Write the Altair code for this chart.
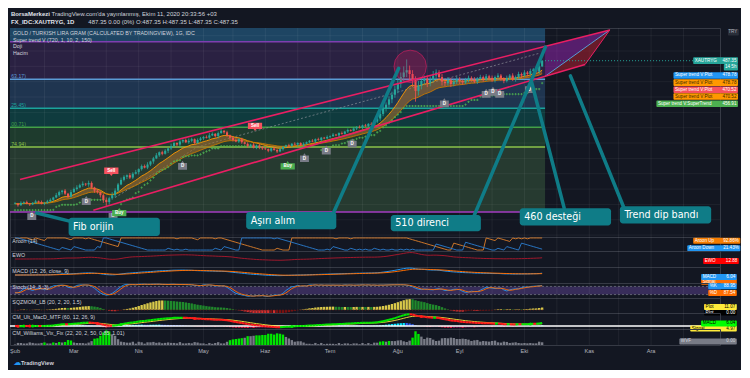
import altair as alt
import numpy as np
import pandas as pd

BG = "#131722"
W = 710
XDOM = [-1.7, 239.4]
SF = "Liberation Sans"
AF = "DejaVu Sans"
TXT = "#d1d4dc"
AXC = "#b2b5be"
BORDER = "#363a45"
TEAL_BOX = "#0f7c87"

H_HEAD, H_MAIN, H_AR, H_EWO, H_MACD, H_ST, H_SQZ, H_CM, H_VIX, H_AX, H_LOGO = 19, 209, 14, 16, 16, 15, 15, 16, 16, 11, 13

# ---------------- data ----------------
MONTHS = ["Şub", "Mar", "Nis", "May", "Haz", "Tem", "Ağu", "Eyl", "Eki", "Kas", "Ara"]
MONTH_START = [0, 20, 42, 64, 85, 107, 130, 151, 173, 195, 216]
GRID_X = [0, 10, 20, 31, 42, 53, 64, 74, 85, 96, 107, 118, 130, 140, 151, 162, 173, 184, 195, 205, 216, 227]
PRICE_TICKS = [260, 280, 300, 320, 340, 360, 380, 400, 420, 440, 460, 480, 500, 520]

FIRST_OPEN = 301.0
CLOSE = [
    301, 299, 302, 303, 301, 300, 302, 304, 303, 301,
    302, 304, 306, 309, 312, 316, 318, 314, 310, 316,
    320, 322, 325, 327, 326, 328, 322, 318, 316, 312,
    306, 303, 308, 312, 318, 326, 332, 336, 338, 335,
    340, 342,
    346, 350, 348, 352, 356, 360, 364, 368, 366, 370,
    373, 376, 380, 378, 382, 384, 381, 383, 385, 380,
    384, 386,
    388, 387, 390, 392, 389, 393, 396, 394, 390, 387,
    384, 382, 385, 381, 379, 376, 378, 374, 377, 375,
    373,
    372, 370, 373, 371, 369, 372, 375, 377, 376, 379,
    378, 380, 377, 379, 381, 383, 382, 385, 384, 387,
    386, 388,
    389, 391, 390, 393, 392, 395, 397, 396, 399, 401,
    400, 403, 402, 405, 404, 408, 412, 418, 425, 430,
    437, 443, 450,
    458, 466, 472, 475, 470, 463, 448, 455, 461, 464,
    458, 462, 468, 472, 466, 460, 458, 462, 457, 460,
    463,
    461, 459, 462, 465, 463, 460, 464, 466, 463, 467,
    465, 462, 466, 468, 464, 461, 465, 468, 463, 466,
    470, 468,
    472, 470, 474, 476, 473, 480, 487.35,
]
WICK_UP = [
    2, 1, 2, 1, 2, 1, 1, 2, 1, 2, 1, 2, 2, 1, 3, 2, 1, 2, 1, 3,
    2, 3, 2, 3, 1, 3, 2, 1, 2, 1, 2, 3, 2, 4, 3, 2, 3, 2, 1, 3,
    2, 3, 1, 2, 2, 3, 1, 2, 3, 1, 2, 2, 1, 3, 2, 1, 2, 1, 2, 3,
    2, 1, 2, 2, 1, 2, 3, 2, 1, 2, 3, 1, 2, 1, 2, 2, 1, 2, 1, 2,
    1, 2, 1, 2, 1, 2, 1, 1, 2, 1, 2, 1, 1, 2, 1, 2, 1, 1, 2, 1,
    1, 2, 1, 2, 1, 1, 2, 1, 2, 1, 1, 2, 1, 2, 1, 2, 1, 2, 1, 2,
    1, 2, 2, 3, 3, 4, 3, 4, 4, 5, 5, 6, 8, 14, 6, 5, 4, 6, 5, 4,
    4, 5, 6, 4, 3, 4, 3, 4, 3, 3, 4, 3, 2, 3, 3, 2, 3, 2, 3, 2,
    3, 2, 3, 2, 3, 2, 2, 3, 2, 3, 2, 3, 2, 3, 2, 3, 2, 3, 2, 1,
]
WICK_DN = [
    1, 2, 1, 2, 1, 2, 1, 1, 2, 1, 2, 1, 1, 2, 1, 2, 3, 2, 2, 1,
    1, 2, 1, 2, 2, 3, 2, 3, 2, 3, 4, 5, 3, 2, 3, 2, 1, 2, 3, 2,
    2, 1, 3, 2, 1, 2, 2, 3, 1, 2, 2, 1, 3, 2, 1, 2, 3, 2, 1, 2,
    2, 2, 1, 2, 2, 1, 2, 1, 2, 3, 1, 2, 2, 3, 2, 1, 2, 2, 1, 2,
    2, 1, 2, 3, 2, 1, 2, 2, 1, 2, 1, 2, 1, 2, 1, 1, 2, 1, 2, 1,
    1, 1, 2, 1, 2, 1, 1, 2, 1, 1, 2, 1, 1, 2, 1, 1, 2, 1, 2, 1,
    2, 1, 2, 2, 3, 3, 4, 4, 5, 4, 5, 6, 5, 6, 8, 10, 14, 6, 5, 4,
    5, 4, 3, 5, 4, 5, 4, 3, 4, 3, 3, 4, 3, 2, 3, 3, 2, 3, 2, 3,
    2, 3, 2, 3, 2, 3, 3, 2, 3, 2, 3, 2, 3, 2, 3, 2, 3, 2, 3, 1,
]
assert len(CLOSE) == 180 and len(WICK_UP) == 180 and len(WICK_DN) == 180

# Fibonacci levels / bands
FIB_LEVEL = [512.0, 463.17, 425.45, 400.71, 374.94, 290.0]
FIB_LINE_COL = ["#7e3fb0", "#5b9bd5", "#1ba39c", "#43a047", "#8bc34a", "#a43cc0"]
FIB_LABEL = ["", "63.17)", "25.45)", "00.71)", "74.94)", ""]
BAND_LO = [512.0, 463.17, 425.45, 400.71, 374.94, 290.0]
BAND_HI = [530.0, 512.0, 463.17, 425.45, 400.71, 374.94]
BAND_COL = ["#1e4563", "#2a2142", "#1f3550", "#0f3b3e", "#1e3b2d", "#263a30"]
FIB_END = 180.0

# trend channel
CH_I0 = [1.7, 26.6]
CH_P0 = [332.5, 292.5]
CH_I1 = [202.0, 193.6]
CH_P1 = [527.5, 482.5]
DASH_I = [34, 62, 178]
DASH_P = [309, 375, 497]
PURPLE_I = [180.0, 202.0]
PURPLE_TOP = [506.1, 527.5]
PURPLE_BOT = [467.0, 527.5]
RED_I = [180.0, 193.6, 202.0]
RED_TOP = [467.0, 504.4, 527.5]
RED_BOT = [467.0, 482.5, 527.5]

# signal labels
D_I = [5.7, 24.2, 33.3, 56.9, 98.3, 105.7, 114.5, 145.8, 160.0, 162.3, 164.6, 174.7]
D_P = [285.6, 305.0, 286.0, 351.0, 361.0, 371.0, 380.0, 432.5, 445.0, 447.5, 445.0, 451.0]
SELL_I = [32.7, 81.5]
SELL_P = [342.5, 401.0]
BUY_I = [35.4, 92.6]
BUY_P = [290.0, 351.0]
CIRCLE_I = [134.2]
CIRCLE_P = [480.0]

# callouts
ANN_TEXT = ["Fib orijin", "Aşırı alım", "510 direnci", "460 desteği", "Trend dip bandı"]
ANN_I0 = [18.2, 78.5, 127.6, 171.4, 205.4]
ANN_I1 = [49.2, 109.1, 158.2, 202.4, 236.4]
ANN_P0 = [258.75, 267.5, 265.0, 272.5, 275.0]
ANN_P1 = [282.5, 290.0, 286.25, 295.0, 297.5]
PTR_I0 = [19.2, 108.1, 156.0, 186.5, 206.7]
PTR_P0 = [277.5, 288.75, 286.25, 295.0, 296.25]
PTR_I1 = [7.4, 130.3, 180.1, 175.4, 188.6]
PTR_P1 = [288.75, 477.5, 505.0, 460.0, 467.5]

LEGEND = ["GOLD / TURKISH LIRA GRAM (CALCULATED BY TRADINGVIEW), 1G, IDC",
          "Super trend V (720, 1, 10, 2, 150)", "Doji", "Hacim"]
LEGEND_P = [523.75, 515.0, 506.25, 497.5]

# ---------------- indicators derived from the candles ----------------
c = np.array(CLOSE, float)
o = np.concatenate([[FIRST_OPEN], c[:-1]])
hi_ = np.maximum(o, c) + np.array(WICK_UP, float)
lo_ = np.minimum(o, c) - np.array(WICK_DN, float)
n = len(c)
idx = np.arange(n)


def ema(x, p):
    out = np.zeros(len(x))
    a = 2.0 / (p + 1)
    out[0] = x[0]
    for k in range(1, len(x)):
        out[k] = a * x[k] + (1 - a) * out[k - 1]
    return out


def sma(x, p):
    return pd.Series(x).rolling(p, min_periods=1).mean().to_numpy()


def rmax(x, p):
    return pd.Series(x).rolling(p, min_periods=1).max().to_numpy()


def rmin(x, p):
    return pd.Series(x).rolling(p, min_periods=1).min().to_numpy()


ema_f = ema(c, 10)
ema_s = ema(c, 21)

prev_c = np.concatenate([[c[0]], c[:-1]])
tr = np.maximum(hi_ - lo_, np.maximum(np.abs(hi_ - prev_c), np.abs(lo_ - prev_c)))
atr = sma(tr, 10)
hl2 = (hi_ + lo_) / 2
ub = hl2 + 3 * atr
lb = hl2 - 3 * atr
fu = ub.copy()
fl = lb.copy()
trend = np.ones(n, int)
for k in range(1, n):
    fl[k] = lb[k] if (lb[k] > fl[k - 1] or c[k - 1] < fl[k - 1]) else fl[k - 1]
    fu[k] = ub[k] if (ub[k] < fu[k - 1] or c[k - 1] > fu[k - 1]) else fu[k - 1]
    t = trend[k - 1]
    if t == 1 and c[k] < fl[k - 1]:
        t = -1
    elif t == -1 and c[k] > fu[k - 1]:
        t = 1
    trend[k] = t

aup = np.zeros(n)
adn = np.zeros(n)
for k in range(n):
    s = max(0, k - 14)
    wh = hi_[s:k + 1]
    wl = lo_[s:k + 1]
    aup[k] = 100 * (14 - np.argmax(wh[::-1])) / 14
    adn[k] = 100 * (14 - np.argmin(wl[::-1])) / 14

ewo = sma(hl2, 5) - sma(hl2, 35)
macd = ema(c, 12) - ema(c, 26)
sig = ema(macd, 9)
ll14 = rmin(lo_, 14)
hh14 = rmax(hi_, 14)
raw = 100 * (c - ll14) / np.maximum(hh14 - ll14, 1e-6)
stk = sma(raw, 3)
std_ = sma(stk, 3)

src = c - ((rmax(hi_, 20) + rmin(lo_, 20)) / 2 + sma(c, 20)) / 2
sqz = np.zeros(n)
for k in range(n):
    s = max(0, k - 19)
    yy = src[s:k + 1]
    if len(yy) < 3:
        sqz[k] = yy[-1]
        continue
    xx = np.arange(len(yy))
    b, a0 = np.polyfit(xx, yy, 1)
    sqz[k] = a0 + b * (len(yy) - 1)

hc = rmax(c, 22)
wvf = (hc - lo_) / hc * 100
mid = sma(wvf, 20)
sdv = pd.Series(wvf).rolling(20, min_periods=2).std().fillna(0).to_numpy()
vgreen = ((wvf >= mid + 2 * sdv) | (wvf >= rmax(wvf, 50) * 0.85)) & (idx > 5)


# ---------------- helpers ----------------
def sx(field):
    return alt.X(f"{field}:Q", scale=alt.Scale(domain=XDOM, nice=False, zero=False), axis=None)


def sy(field, dom, axis=None):
    if axis is None:
        return alt.Y(f"{field}:Q", scale=alt.Scale(domain=dom, nice=False, zero=False), axis=None)
    return alt.Y(f"{field}:Q", scale=alt.Scale(domain=dom, nice=False, zero=False), axis=axis)


def vgrid(dom, op=0.06):
    df = pd.DataFrame({"gx": GRID_X, "y0": dom[0], "y1": dom[1]})
    return alt.Chart(df).mark_rule(color="#ffffff", opacity=op, strokeWidth=1).encode(
        x=sx("gx"), y=sy("y0", dom), y2="y1")


def plabel(text, dom):
    df = pd.DataFrame({"x": [-0.9], "y": [dom[1]], "t": [text]})
    return alt.Chart(df).mark_text(align="left", baseline="top", dy=1.5, font=SF, fontSize=5.3,
                                   color=TXT).encode(x=sx("x"), y=sy("y", dom), text="t:N")


def tag_layers(df, dom, fs=4.6):
    r = alt.Chart(df).mark_rect(cornerRadius=1).encode(
        x=sx("iL"), x2="iR", y=sy("y0", dom), y2="y1", color=alt.Color("fill:N", scale=None))
    t1 = alt.Chart(df).mark_text(align="left", baseline="middle", dx=1.5, font=SF, fontSize=fs).encode(
        x=sx("iL"), y=sy("yc", dom), text="label:N", color=alt.Color("tc:N", scale=None))
    t2 = alt.Chart(df).mark_text(align="right", baseline="middle", dx=-1.5, font=SF, fontSize=fs).encode(
        x=sx("iR"), y=sy("yc", dom), text="value:N", color=alt.Color("tc:N", scale=None))
    return [r, t1, t2]


def tags(rows, dom, H):
    span = dom[1] - dom[0]
    half = 3.0 / H * span
    df = pd.DataFrame(rows, columns=["label", "value", "iL", "iR", "frac", "fill", "tc"])
    df["yc"] = dom[1] - df["frac"] * span
    df["y0"] = df["yc"] - half
    df["y1"] = df["yc"] + half
    return tag_layers(df, dom)


NOSTROKE = alt.ViewBackground(stroke="transparent")

# ---------------- header ----------------
HD = [19, 0]
head_b = pd.DataFrame({"x": [-1.4, -1.4], "y": [4.5, 12.5], "t": ["BorsaMerkezi", "FX_IDC:XAUTRYG, 1D"]})
head_n = pd.DataFrame({"x": [12.4, 24.9], "y": [4.5, 12.5],
                       "t": ["TradingView.com'da yayınlanmış, Ekim 11, 2020 20:33:56 +03",
                             "487.35 0.00 (0%) O:487.35 H:487.35 L:487.35 C:487.35"]})
header = alt.layer(
    alt.Chart(head_b).mark_text(align="left", baseline="middle", font=SF, fontSize=6, fontWeight="bold",
                                color="#e0e3eb").encode(x=sx("x"), y=sy("y", HD), text="t:N"),
    alt.Chart(head_n).mark_text(align="left", baseline="middle", font=SF, fontSize=6,
                                color=TXT).encode(x=sx("x"), y=sy("y", HD), text="t:N"),
).properties(width=W, height=H_HEAD, view=NOSTROKE)

# ---------------- main price panel ----------------
MD = [257.5, 530.0]
bands = pd.DataFrame({"i0": XDOM[0], "i1": FIB_END, "lo": BAND_LO, "hi": BAND_HI, "col": BAND_COL})
fib = pd.DataFrame({"i0": XDOM[0], "i1": FIB_END, "p": FIB_LEVEL, "col": FIB_LINE_COL, "lab": FIB_LABEL,
                    "lx": -1.3})
hgrid = pd.DataFrame({"gp": PRICE_TICKS, "i0": XDOM[0], "i1": XDOM[1]})
candles = pd.DataFrame({"i": idx, "o": o, "c": c, "h": hi_, "l": lo_})
candles["bl"] = np.minimum(o, c)
candles["bh"] = np.maximum(np.maximum(o, c), candles["bl"] + 0.7)
candles["col"] = np.where(c >= o, "#26a69a", "#ef5350")
candles["b0"] = idx - 0.36
candles["b1"] = idx + 0.36
rib = pd.DataFrame({"i": idx, "f": ema_f, "s": ema_s})
st_df = pd.DataFrame({"i": idx[trend == 1], "st": fl[trend == 1]})
chan = pd.DataFrame({"i0": CH_I0, "p0": CH_P0, "i1": CH_I1, "p1": CH_P1})
dash = pd.DataFrame({"i": DASH_I, "p": DASH_P})
purple = pd.DataFrame({"i": PURPLE_I, "t": PURPLE_TOP, "b": PURPLE_BOT})
redar = pd.DataFrame({"i": RED_I, "t": RED_TOP, "b": RED_BOT})
edges = pd.DataFrame({"i0": [PURPLE_I[0], RED_I[1]], "p0": [PURPLE_BOT[0], RED_BOT[1]],
                      "i1": [PURPLE_I[1], RED_I[2]], "p1": [PURPLE_TOP[1], RED_TOP[2]],
                      "col": ["#5b9bd5", "#e91e63"]})
dlab = pd.DataFrame({"i": D_I, "p": D_P})
slab = pd.DataFrame({"i": SELL_I, "p": SELL_P})
blab = pd.DataFrame({"i": BUY_I, "p": BUY_P})
circ = pd.DataFrame({"i": CIRCLE_I, "p": CIRCLE_P})
ann = pd.DataFrame({"t": ANN_TEXT, "i0": ANN_I0, "i1": ANN_I1, "p0": ANN_P0, "p1": ANN_P1})
ann["pm"] = (ann["p0"] + ann["p1"]) / 2
ptr = pd.DataFrame({"i0": PTR_I0, "p0": PTR_P0, "i1": PTR_I1, "p1": PTR_P1})
legend = pd.DataFrame({"t": LEGEND, "p": LEGEND_P, "x": -0.7})
lastp = pd.DataFrame({"i0": [FIB_END], "i1": [230.3], "p": [c[-1]]})

D_PATH = "M-1,-0.5 L-0.35,-0.5 L0,-1 L0.35,-0.5 L1,-0.5 L1,1 L-1,1 Z"
SELL_PATH = "M-1.7,-1 L1.7,-1 L1.7,0.5 L0.35,0.5 L0,1 L-0.35,0.5 L-1.7,0.5 Z"
BUY_PATH = "M-1.7,-0.5 L-0.35,-0.5 L0,-1 L0.35,-0.5 L1.7,-0.5 L1.7,1 L-1.7,1 Z"

yaxis = alt.Axis(orient="right", values=PRICE_TICKS, format=".2f", labelFont=SF, labelFontSize=5.2,
                 labelColor=AXC, ticks=True, tickSize=3, tickColor="#787b86", domain=False, grid=False,
                 labelPadding=2, title=None)

MHALF = 3.3 / H_MAIN * (MD[1] - MD[0])
main_tags_rows = [
    ("", "TRY", 242.1, 245.8, 524.4, "#2a2e39", AXC),
    ("XAUTRYG", "487.35", 230.3, 245.5, 487.5, "#26a69a", "#ffffff"),
    ("", "14 5h", 240.7, 245.5, 478.75, "#26a69a", "#ffffff"),
    ("Super trend V:Plot", "478.78", 223.6, 245.5, 468.1, "#2196f3", "#ffffff"),
    ("Super trend V:Plot", "478.78", 223.6, 245.5, 458.75, "#ff9800", "#3b2a00"),
    ("Super trend V:Plot", "470.52", 223.6, 245.5, 449.4, "#f7525f", "#ffffff"),
    ("Super trend V:Plot", "470.52", 223.6, 245.5, 440.6, "#ff9800", "#3b2a00"),
    ("Super trend V:SuperTrend", "456.91", 217.8, 245.5, 431.25, "#4caf50", "#ffffff"),
]
mt = pd.DataFrame(main_tags_rows, columns=["label", "value", "iL", "iR", "yc", "fill", "tc"])
mt["y0"] = mt["yc"] - MHALF
mt["y1"] = mt["yc"] + MHALF

main_layers = [
    alt.Chart(bands).mark_rect().encode(x=sx("i0"), x2="i1", y=sy("lo", MD), y2="hi",
                                        color=alt.Color("col:N", scale=None)),
    alt.Chart(hgrid).mark_rule(color="#ffffff", opacity=0.05).encode(x=sx("i0"), x2="i1",
                                                                     y=sy("gp", MD, yaxis)),
    vgrid(MD),
    alt.Chart(fib).mark_rule(strokeWidth=1.5).encode(x=sx("i0"), x2="i1", y=sy("p", MD),
                                                    color=alt.Color("col:N", scale=None)),
    alt.Chart(fib).mark_text(align="left", baseline="bottom", dy=-0.3, font=SF, fontSize=5.2).encode(
        x=sx("lx"), y=sy("p", MD), text="lab:N", color=alt.Color("col:N", scale=None)),
    alt.Chart(dash).mark_line(color="#9598a1", strokeDash=[2, 2], strokeWidth=0.8, opacity=0.8).encode(
        x=sx("i"), y=sy("p", MD)),
    alt.Chart(rib).mark_area(color="#9c6a2e", opacity=0.6).encode(x=sx("i"), y=sy("f", MD), y2="s"),
    alt.Chart(rib).mark_line(color="#ff9800", strokeWidth=0.9).encode(x=sx("i"), y=sy("f", MD)),
    alt.Chart(rib).mark_line(color="#c77800", strokeWidth=0.9).encode(x=sx("i"), y=sy("s", MD)),
    alt.Chart(st_df).mark_point(shape="cross", filled=True, size=5, color="#4caf50", opacity=0.9).encode(
        x=sx("i"), y=sy("st", MD)),
    alt.Chart(candles).mark_rule(strokeWidth=0.8).encode(x=sx("i"), y=sy("l", MD), y2="h",
                                                        color=alt.Color("col:N", scale=None)),
    alt.Chart(candles).mark_rect().encode(x=sx("b0"), x2="b1", y=sy("bl", MD), y2="bh",
                                          color=alt.Color("col:N", scale=None)),
    alt.Chart(purple).mark_area(color="#8e24aa", opacity=0.55).encode(x=sx("i"), y=sy("t", MD), y2="b"),
    alt.Chart(redar).mark_area(color="#8b1e2e", opacity=0.7).encode(x=sx("i"), y=sy("t", MD), y2="b"),
    alt.Chart(edges).mark_rule(strokeWidth=1).encode(x=sx("i0"), x2="i1", y=sy("p0", MD), y2="p1",
                                                    color=alt.Color("col:N", scale=None)),
    alt.Chart(chan).mark_rule(color="#e91e63", strokeWidth=1.6).encode(x=sx("i0"), x2="i1",
                                                                      y=sy("p0", MD), y2="p1"),
    alt.Chart(circ).mark_point(shape="circle", filled=True, size=1050, color="#e91e63", fillOpacity=0.25,
                               stroke="#e91e63", strokeOpacity=0.55, strokeWidth=1).encode(
        x=sx("i"), y=sy("p", MD)),
    alt.Chart(lastp).mark_rule(color="#26a69a", strokeDash=[1, 2], strokeWidth=1).encode(
        x=sx("i0"), x2="i1", y=sy("p", MD)),
    alt.Chart(dlab).mark_point(shape=D_PATH, filled=True, size=80, color="#787b86", opacity=1).encode(
        x=sx("i"), y=sy("p", MD)),
    alt.Chart(dlab).mark_text(text="D", font=SF, fontSize=4.5, fontWeight="bold", color="#ffffff", dy=1).encode(
        x=sx("i"), y=sy("p", MD)),
    alt.Chart(slab).mark_point(shape=SELL_PATH, filled=True, size=70, color="#f7525f", opacity=1).encode(
        x=sx("i"), y=sy("p", MD)),
    alt.Chart(slab).mark_text(text="Sell", font=SF, fontSize=4.5, fontWeight="bold", color="#ffffff",
                              dy=-1).encode(x=sx("i"), y=sy("p", MD)),
    alt.Chart(blab).mark_point(shape=BUY_PATH, filled=True, size=70, color="#4caf50", opacity=1).encode(
        x=sx("i"), y=sy("p", MD)),
    alt.Chart(blab).mark_text(text="Buy", font=SF, fontSize=4.5, fontWeight="bold", color="#ffffff",
                              dy=1).encode(x=sx("i"), y=sy("p", MD)),
    alt.Chart(ptr).mark_rule(color=TEAL_BOX, strokeWidth=3.5, strokeCap="round").encode(
        x=sx("i0"), x2="i1", y=sy("p0", MD), y2="p1"),
    alt.Chart(ann).mark_rect(color=TEAL_BOX, cornerRadius=3).encode(x=sx("i0"), x2="i1",
                                                                   y=sy("p0", MD), y2="p1"),
    alt.Chart(ann).mark_text(align="left", baseline="middle", dx=4.5, font=AF, fontSize=9.6,
                             color="#ffffff").encode(x=sx("i0"), y=sy("pm", MD), text="t:N"),
    alt.Chart(legend).mark_text(align="left", baseline="middle", font=SF, fontSize=5.3, color=TXT).encode(
        x=sx("x"), y=sy("p", MD), text="t:N"),
] + tag_layers(mt, MD)
main = alt.layer(*main_layers).properties(width=W, height=H_MAIN)

# ---------------- Aroon ----------------
AD = [-8, 108]
ar_df = pd.DataFrame({"i": idx, "up": aup, "dn": adn})
aroon = alt.layer(
    vgrid(AD),
    alt.Chart(ar_df).mark_line(color="#e0802a", strokeWidth=0.9).encode(x=sx("i"), y=sy("up", AD)),
    alt.Chart(ar_df).mark_line(color="#2a7fd4", strokeWidth=0.9).encode(x=sx("i"), y=sy("dn", AD)),
    plabel("Aroon (14)", AD),
    *tags([("Aroon Up", "92.86%", 230.3, 246.3, 0.27, "#f57c00", "#ffffff"),
           ("Aroon Down", "21.43%", 228.3, 246.3, 0.80, "#2196f3", "#ffffff")], AD, H_AR),
).properties(width=W, height=H_AR)

# ---------------- EWO ----------------
em = float(np.max(np.abs(ewo))) * 1.25
ED = [-em, em]
ewo_df = pd.DataFrame({"i": idx, "v": ewo})
ewo_ch = alt.layer(
    vgrid(ED),
    alt.Chart(ewo_df).mark_line(color="#a0182c", strokeWidth=1).encode(x=sx("i"), y=sy("v", ED)),
    plabel("EWO", ED),
    *tags([("EWO", "12.88", 233.7, 245.8, 0.62, "#ff0000", "#ffffff")], ED, H_EWO),
).properties(width=W, height=H_EWO)

# ---------------- MACD ----------------
mm = float(max(np.max(np.abs(macd)), np.max(np.abs(sig)))) * 1.15
MCD = [-mm, mm]
macd_df = pd.DataFrame({"i": idx, "m": macd, "s": sig})
macd_ch = alt.layer(
    vgrid(MCD),
    alt.Chart(macd_df).mark_line(color="#2196f3", strokeWidth=1).encode(x=sx("i"), y=sy("m", MCD)),
    alt.Chart(macd_df).mark_line(color="#ff6d00", strokeWidth=1).encode(x=sx("i"), y=sy("s", MCD)),
    plabel("MACD (12, 26, close, 9)", MCD),
    *tags([("Signal", "", 233.0, 245.1, 0.92, "#ff6d00", "#ffffff")], MCD, H_MACD),
    *tags([("MACD", "6.04", 233.0, 245.1, 0.62, "#2196f3", "#ffffff")], MCD, H_MACD),
).properties(width=W, height=H_MACD)

# ---------------- Stoch ----------------
SD = [-5, 105]
st_band = pd.DataFrame({"i0": [XDOM[0]], "i1": [XDOM[1]], "lo": [20], "hi": [80]})
stl = pd.DataFrame({"v": [20, 80], "i0": XDOM[0], "i1": XDOM[1]})
stoch_df = pd.DataFrame({"i": idx, "k": stk, "d": std_})
stoch = alt.layer(
    alt.Chart(st_band).mark_rect(color="#7e57c2", opacity=0.35).encode(x=sx("i0"), x2="i1",
                                                                       y=sy("lo", SD), y2="hi"),
    vgrid(SD),
    alt.Chart(stl).mark_rule(color="#787b86", strokeDash=[2, 2], strokeWidth=0.7).encode(
        x=sx("i0"), x2="i1", y=sy("v", SD)),
    alt.Chart(stoch_df).mark_line(color="#2196f3", strokeWidth=0.9).encode(x=sx("i"), y=sy("k", SD)),
    alt.Chart(stoch_df).mark_line(color="#ff6d00", strokeWidth=0.9).encode(x=sx("i"), y=sy("d", SD)),
    plabel("Stoch (14, 3, 3)", SD),
    *tags([("%K", "88.95", 235.4, 245.1, 0.22, "#2196f3", "#ffffff"),
           ("%D", "87.54", 235.4, 245.1, 0.66, "#ff6d00", "#ffffff")], SD, H_ST),
).properties(width=W, height=H_ST)

# ---------------- SQZMOM ----------------
sm = float(np.max(sqz)) * 1.1
QD = [-0.25 * sm, sm]
prev_q = np.concatenate([[sqz[0]], sqz[:-1]])
qcol = np.where(sqz >= 0, np.where(sqz >= prev_q, "#d9c94a", "#1f8a2c"),
                np.where(sqz < prev_q, "#d32f2f", "#7a1010"))
sqz_df = pd.DataFrame({"i0": idx - 0.4, "i1": idx + 0.4, "v": sqz, "z": 0.0, "col": qcol, "i": idx})
sqz_ch = alt.layer(
    vgrid(QD),
    alt.Chart(sqz_df).mark_rect(clip=True).encode(x=sx("i0"), x2="i1", y=sy("z", QD), y2="v",
                                                  color=alt.Color("col:N", scale=None)),
    alt.Chart(sqz_df).mark_point(shape="square", filled=True, size=1.5, color="#5a1a1a", opacity=0.9).encode(
        x=sx("i"), y=sy("z", QD)),
    plabel("SQZMOM_LB (20, 2, 20, 1.5)", QD),
    *tags([("Plot", "0.00", 234.0, 245.1, 0.97, "#000000", "#ffffff")], QD, H_SQZ),
    *tags([("Plot", "11.07", 234.0, 245.1, 0.60, "#ffeb3b", "#000000")], QD, H_SQZ),
).properties(width=W, height=H_SQZ)

# ---------------- CM Ult MacD ----------------
cmm = float(np.max(np.abs(macd))) * 1.1
CD = [-0.22 * cmm, cmm]
seg = pd.DataFrame({"i": idx[:-1], "i2": idx[1:], "m": macd[:-1], "m2": macd[1:]})
seg["col"] = np.where(seg["m2"] >= seg["m"], "#00e600", "#ff1a1a")
hist = macd - sig
prev_h = np.concatenate([[hist[0]], hist[:-1]])
hcol = np.where(hist >= 0, np.where(hist >= prev_h, "#00e5ff", "#2962ff"),
                np.where(hist < prev_h, "#ff1744", "#880e4f"))
hist_df = pd.DataFrame({"i0": idx - 0.4, "i1": idx + 0.4, "v": hist, "z": 0.0, "col": hcol})
cross_k = [k for k in range(1, n) if np.sign(hist[k]) != np.sign(hist[k - 1])]
cross_df = pd.DataFrame({"i": cross_k, "m": macd[cross_k],
                         "col": ["#00e600" if hist[k] > 0 else "#ff1a1a" for k in cross_k]})
zero_df = pd.DataFrame({"i0": [XDOM[0]], "i1": [XDOM[1]], "z": [0.0]})
cm_sig = pd.DataFrame({"i": idx, "s": sig})
cm_ch = alt.layer(
    vgrid(CD),
    alt.Chart(hist_df).mark_rect(clip=True).encode(x=sx("i0"), x2="i1", y=sy("z", CD), y2="v",
                                                   color=alt.Color("col:N", scale=None)),
    alt.Chart(zero_df).mark_rule(color="#ffffff", strokeWidth=1.5).encode(x=sx("i0"), x2="i1", y=sy("z", CD)),
    alt.Chart(cm_sig).mark_line(color="#ffeb3b", strokeWidth=0.9, clip=True).encode(x=sx("i"), y=sy("s", CD)),
    alt.Chart(seg).mark_rule(strokeWidth=2, clip=True).encode(x=sx("i"), x2="i2", y=sy("m", CD), y2="m2",
                                                             color=alt.Color("col:N", scale=None)),
    alt.Chart(cross_df).mark_point(shape="circle", filled=True, size=9, opacity=1, clip=True).encode(
        x=sx("i"), y=sy("m", CD), color=alt.Color("col:N", scale=None)),
    plabel("CM_Ult_MacD_MTF (60, 12, 26, 9)", CD),
    *tags([("Signal", "4.97", 229.3, 245.1, 0.97, "#ffeb3b", "#000000")], CD, H_CM),
    *tags([("MACD", "6.04", 233.0, 245.1, 0.65, "#00ff00", "#000000")], CD, H_CM),
).properties(width=W, height=H_CM)

# ---------------- Williams Vix Fix ----------------
vm = float(np.max(wvf)) * 1.1
VD = [0, vm]
vix_df = pd.DataFrame({"i0": idx - 0.4, "i1": idx + 0.4, "v": wvf, "z": 0.0,
                       "col": np.where(vgreen, "#00e600", "#787b86")})
vix_ch = alt.layer(
    vgrid(VD),
    alt.Chart(vix_df).mark_rect().encode(x=sx("i0"), x2="i1", y=sy("z", VD), y2="v",
                                         color=alt.Color("col:N", scale=None)),
    plabel("CM_Williams_Vix_Fix (22, 20, 2, 50, 0.85, 1.01)", VD),
    *tags([("WVF", "0.00", 225.6, 245.1, 0.78, "#787b86", "#d1d4dc")], VD, H_VIX),
).properties(width=W, height=H_VIX)

# ---------------- time axis row ----------------
XA = [0, 1]
mon_df = pd.DataFrame({"i": MONTH_START, "t": MONTHS, "y": 0.5})
axis_row = alt.Chart(mon_df).mark_text(baseline="middle", font=SF, fontSize=5.6, color=AXC).encode(
    x=sx("i"), y=sy("y", XA), text="t:N").properties(width=W, height=H_AX, view=NOSTROKE)

# ---------------- logo row ----------------
logo_i = pd.DataFrame({"i": [-0.5], "y": [0.5], "t": ["☁"]})
logo_t = pd.DataFrame({"i": [2.0], "y": [0.5], "t": ["TradingView"]})
logo = alt.layer(
    alt.Chart(logo_i).mark_text(align="left", baseline="middle", font=AF, fontSize=8, color="#2196f3").encode(
        x=sx("i"), y=sy("y", XA), text="t:N"),
    alt.Chart(logo_t).mark_text(align="left", baseline="middle", font=SF, fontSize=5.6, fontWeight="bold",
                                color=TXT).encode(x=sx("i"), y=sy("y", XA), text="t:N"),
).properties(width=W, height=H_LOGO, view=NOSTROKE)

chart = alt.vconcat(header, main, aroon, ewo_ch, macd_ch, stoch, sqz_ch, cm_ch, vix_ch, axis_row, logo,
                    spacing=0, bounds="flush").properties(
    background=BG, padding=0
).configure_view(stroke=BORDER, strokeWidth=1)

chart.save("out.html", embed_options={"renderer": "svg", "actions": False})
